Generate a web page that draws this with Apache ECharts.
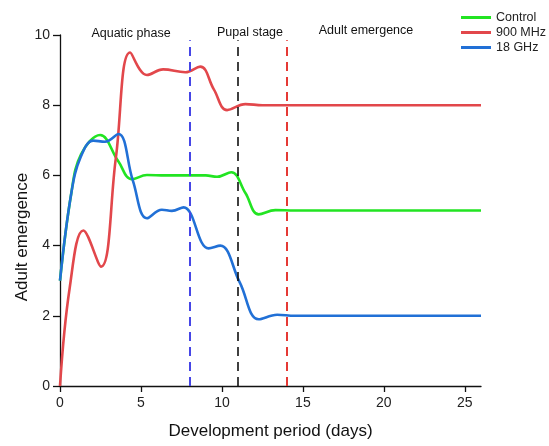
<!DOCTYPE html>
<html>
<head>
<meta charset="utf-8">
<script src="https://cdn.jsdelivr.net/npm/echarts@6/dist/echarts.min.js"></script>
<style>
  html, body { margin: 0; padding: 0; background: #fff; }
  #chart { width: 549px; height: 446px; }
</style>
</head>
<body>
<div id="chart"></div>
<script>
// values
const controlDays = [0, 0.7, 1.3, 2.48, 3.6, 4.44, 5.37, 6.5, 8.0, 9.0, 9.7, 10.58, 11.45, 12.27, 13.3, 14.5, 26]
const controlValues = [3, 5.5, 6.6, 7.15, 6.4, 5.89, 6.01, 6.0, 6.0, 6.0, 5.96, 6.09, 5.5, 4.89, 5.01, 5.0, 5.0]

const mhzDays = [0, 0.6, 1.44, 2.54, 3.45, 4.33, 5.37, 6.37, 7.74, 8.66, 9.5, 10.32, 11.45, 12.5, 26]
const mhzValues = [0, 2.8, 4.43, 3.4, 6.5, 9.5, 8.86, 9.02, 8.94, 9.1, 8.45, 7.86, 8.03, 8.0, 8.0]

const ghzDays = [0, 0.7, 1.3, 2.06, 2.78, 3.61, 4.5, 5.37, 6.29, 6.91, 7.63, 9.18, 9.9, 11.1, 12.27, 13.41, 14.5, 26]
const ghzValues = [3, 5.5, 6.55, 6.99, 6.96, 7.18, 5.85, 4.78, 5.02, 4.99, 5.09, 3.92, 4.0, 2.95, 1.9, 2.03, 2.0, 2.0]

const phaseDays = [8, 11, 14]
const phaseTop = 9.85
const phaseColors = ['#4646e6', '#111111', '#e53935']
const phaseWidths = [2, 1.6, 2]

const xTicks = [0, 5, 10, 15, 20, 25]

const toPairs = (xs, ys) => xs.map((x, i) => [x, ys[i]])

const chart = echarts.init(document.getElementById('chart'))

const lineSeries = (name, color, data) => ({
  name,
  type: 'line',
  data,
  smooth: 0.4,
  smoothConstraint: false,
  showSymbol: false,
  symbol: 'none',
  lineStyle: { color, width: 2.6 },
  itemStyle: { color },
  z: 3
})

const series = [
  lineSeries('Control', '#22e422', toPairs(controlDays, controlValues)),
  lineSeries('900 MHz', '#e2474b', toPairs(mhzDays, mhzValues)),
  lineSeries('18 GHz', '#2170d6', toPairs(ghzDays, ghzValues))
]

// dashed phase separators
series.push({
  type: 'line',
  data: [],
  silent: true,
  markLine: {
    symbol: 'none',
    silent: true,
    label: { show: false },
    data: phaseDays.map((d, i) => [
      { coord: [d, 0], lineStyle: { color: phaseColors[i], type: [9, 6], width: phaseWidths[i] } },
      { coord: [d, phaseTop] }
    ])
  },
  z: 2
})

const textStyle = (text, size) => ({
  text,
  fontSize: size,
  fill: '#111',
  fontFamily: 'Liberation Sans',
  align: 'center',
  verticalAlign: 'middle'
})

chart.setOption({
  animation: false,
  backgroundColor: '#fff',
  grid: { left: 60, right: 68, top: 35, bottom: 60 },
  legend: {
    orient: 'vertical',
    left: 456,
    top: 6,
    icon: 'rect',
    itemWidth: 30,
    itemHeight: 3,
    itemGap: 2,
    data: ['Control', '900 MHz', '18 GHz'],
    textStyle: { fontSize: 12.5, color: '#222', fontFamily: 'Liberation Sans', lineHeight: 13 }
  },
  xAxis: {
    type: 'value',
    min: 0,
    max: 26,
    interval: 5,
    name: 'Development period (days)',
    nameLocation: 'middle',
    nameGap: 37,
    nameTextStyle: { fontSize: 17, color: '#111', fontFamily: 'Liberation Sans' },
    splitLine: { show: false },
    axisLine: { lineStyle: { color: '#111', width: 1.3 } },
    axisTick: { length: 6, customValues: xTicks, lineStyle: { color: '#111', width: 1.3 } },
    axisLabel: { customValues: xTicks, margin: 10, fontSize: 14, color: '#222', fontFamily: 'Liberation Sans' }
  },
  yAxis: {
    type: 'value',
    min: 0,
    max: 10,
    interval: 2,
    splitLine: { show: false },
    axisLine: { show: true, lineStyle: { color: '#111', width: 1.3 } },
    axisTick: { show: true, length: 7, lineStyle: { color: '#111', width: 1.3 } },
    axisLabel: { margin: 10, fontSize: 14, color: '#222', fontFamily: 'Liberation Sans' }
  },
  graphic: [
    { type: 'text', x: 131, y: 34, style: textStyle('Aquatic phase', 12.5) },
    { type: 'text', x: 250, y: 33, style: textStyle('Pupal stage', 12.5) },
    { type: 'text', x: 366, y: 31, style: textStyle('Adult emergence', 12.5) },
    { type: 'text', x: 22, y: 237, rotation: Math.PI / 2, style: textStyle('Adult emergence', 17) }
  ],
  series
})
</script>
</body>
</html>
